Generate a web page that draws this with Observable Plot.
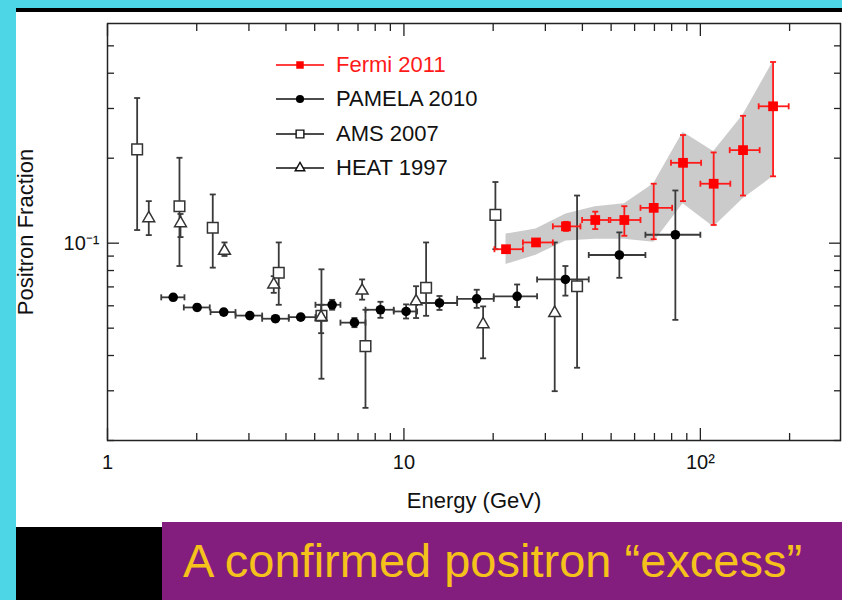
<!DOCTYPE html>
<html>
<head>
<meta charset="utf-8">
<script src="https://cdn.jsdelivr.net/npm/d3@7"></script>
<script src="https://cdn.jsdelivr.net/npm/@observablehq/plot@0.6"></script>
<style>
html, body { margin: 0; padding: 0; background: #fff; }
body { position: relative; width: 842px; height: 600px; overflow: hidden; font-family: "Liberation Sans", Arial, Helvetica, sans-serif; }
.blk { position: absolute; }
#chart { position: absolute; left: 16px; top: 12px; }
#legend { position: absolute; left: 0; top: 0; }
.lrow { position: absolute; height: 26px; }
.lrow svg { position: absolute; left: 0; top: 0; }
.lrow span { position: absolute; left: 60px; top: 0; line-height: 26px; font-size: 22px; white-space: nowrap; }
#banner { position: absolute; left: 162px; top: 522px; width: 680px; height: 78px; background: #841e7e; }
#banner span { position: absolute; left: 21px; top: 11px; font-size: 47px; line-height: 56px; color: #f5c21b; white-space: nowrap; }
</style>
</head>
<body>
<div class="blk" style="left:0;top:0;width:842px;height:8px;background:#4dd7e6"></div>
<div class="blk" style="left:16px;top:8px;width:826px;height:4px;background:#000"></div>
<div class="blk" style="left:0;top:0;width:16px;height:600px;background:#4dd7e6"></div>
<div class="blk" style="left:16px;top:527px;width:146px;height:73px;background:#000"></div>
<div id="chart"></div>
<div id="legend"></div>
<div id="banner"><span>A confirmed positron “excess”</span></div>
<script>
// ---------- data ----------
const seriesNames = ["Fermi 2011", "PAMELA 2010", "AMS 2007", "HEAT 1997"];

// Fermi 2011
const fermiE    = [22.1, 27.9, 35.2, 44.2, 55.4, 69.6, 87.4, 110.9, 139.3, 175.9];
const fermiELo  = [20.2, 25.2, 31.8, 39.9, 49.7, 62.8, 79.6, 100, 125.6, 157.3];
const fermiEHi  = [25.2, 31.8, 39.4, 49.1, 62.8, 80.3, 100.6, 126.2, 158.5, 198.6];
const fermiF    = [0.0952, 0.1006, 0.1147, 0.1208, 0.1208, 0.1334, 0.1926, 0.1624, 0.2136, 0.3054];
const fermiFLo  = [0.0930, 0.0983, 0.1105, 0.1122, 0.1062, 0.1033, 0.1409, 0.1160, 0.1475, 0.1725];
const fermiFHi  = [0.0975, 0.1030, 0.1190, 0.1293, 0.1352, 0.1624, 0.2416, 0.2096, 0.2826, 0.4383];
const fermiSysLo = [0.0841, 0.0906, 0.1017, 0.1033, 0.1033, 0.1008, 0.1378, 0.1141, 0.1436, 0.1721];
const fermiSysHi = [0.1077, 0.1122, 0.1269, 0.1345, 0.1378, 0.1624, 0.2471, 0.2113, 0.2842, 0.4393];

// PAMELA 2010
const pamelaE   = [1.666, 2.006, 2.467, 3.02, 3.687, 4.486, 5.726, 6.808, 8.332, 10.17, 13.18, 17.6, 24.09, 35.05, 53.3, 82.35];
const pamelaELo = [1.518, 1.809, 2.226, 2.703, 3.325, 4.088, 5.03, 6.107, 7.418, 9.24, 11.08, 15.12, 20.09, 28.13, 42.02, 65.26];
const pamelaEHi = [1.818, 2.213, 2.703, 3.325, 4.088, 5.03, 6.107, 7.418, 9.24, 11.08, 15.12, 20.09, 28.13, 42.02, 65.26, 100];
const pamelaF   = [0.0643, 0.0592, 0.0570, 0.0554, 0.0540, 0.0547, 0.0605, 0.0523, 0.0581, 0.0573, 0.0614, 0.0635, 0.0648, 0.0744, 0.0908, 0.1071];
const pamelaFLo = [0.0628, 0.0578, 0.0557, 0.0541, 0.0527, 0.0534, 0.0581, 0.0504, 0.0544, 0.0541, 0.0580, 0.0590, 0.0594, 0.0652, 0.0754, 0.0535];
const pamelaFHi = [0.0658, 0.0606, 0.0583, 0.0567, 0.0553, 0.0560, 0.0630, 0.0543, 0.0620, 0.0607, 0.0650, 0.0684, 0.0714, 0.0830, 0.1092, 0.1537];

// AMS 2007
const amsE   = [1.259, 1.749, 2.265, 3.782, 5.269, 7.418, 11.88, 20.35, 38.38];
const amsF   = [0.2149, 0.1352, 0.1134, 0.0786, 0.0553, 0.0432, 0.0695, 0.1259, 0.0704];
const amsFLo = [0.1113, 0.0830, 0.0819, 0.0605, 0.0331, 0.0261, 0.0553, 0.0952, 0.0362];
const amsFHi = [0.3267, 0.2007, 0.1488, 0.1006, 0.0808, 0.0581, 0.1006, 0.1647, 0.1475];

// HEAT 1997
const heatE   = [1.378, 1.763, 2.481, 3.638, 5.256, 7.228, 10.99, 18.5, 32.26];
const heatF   = [0.1225, 0.1176, 0.0939, 0.0714, 0.0547, 0.0679, 0.0622, 0.0516, 0.0566];
const heatFLo = [0.1068, 0.1051, 0.0901, 0.0667, 0.0480, 0.0631, 0.0543, 0.0391, 0.0299];
const heatFHi = [0.1409, 0.1269, 0.1006, 0.0764, 0.0605, 0.0744, 0.0704, 0.0597, 0.1006];

// axis ticks
const xMajor = [1, 10, 100];
const xMinor = [2, 3, 4, 5, 6, 7, 8, 9, 20, 30, 40, 50, 60, 70, 80, 90, 200];
const yMajor = [0.1];
const yMinor = [0.02, 0.03, 0.04, 0.05, 0.06, 0.07, 0.08, 0.09, 0.2, 0.3, 0.4, 0.5];
const xDomain = [1, 297];
const yDomain = [0.02, 0.6];

// ---------- build tables ----------
const fermi = fermiE.map((e, i) => ({e, elo: fermiELo[i], ehi: fermiEHi[i], f: fermiF[i], lo: fermiFLo[i], hi: fermiFHi[i], sysLo: fermiSysLo[i], sysHi: fermiSysHi[i]}));
const pamela = pamelaE.map((e, i) => ({e, elo: pamelaELo[i], ehi: pamelaEHi[i], f: pamelaF[i], lo: pamelaFLo[i], hi: pamelaFHi[i]}));
const ams = amsE.map((e, i) => ({e, f: amsF[i], lo: amsFLo[i], hi: amsFHi[i]}));
const heat = heatE.map((e, i) => ({e, f: heatF[i], lo: heatFLo[i], hi: heatFHi[i]}));

const sup = {"0":"⁰","1":"¹","2":"²","3":"³","4":"⁴","5":"⁵","6":"⁶","7":"⁷","8":"⁸","9":"⁹","-":"⁻"};
const powFmt = d => {
  const p = Math.round(Math.log10(d));
  if (p === 0) return "1";
  if (p === 1) return "10";
  return "10" + String(p).split("").map(c => sup[c]).join("");
};

const capH = {draw(ctx, size) { const w = Math.sqrt(size / Math.PI); ctx.moveTo(-w, 0); ctx.lineTo(w, 0); }};
const capV = {draw(ctx, size) { const w = Math.sqrt(size / Math.PI); ctx.moveTo(0, -w); ctx.lineTo(0, w); }};

function errorMarks(data, color, width, withX) {
  const s = {stroke: color, strokeWidth: width};
  const m = [
    Plot.link(data, {x1: "e", x2: "e", y1: "lo", y2: "hi", ...s}),
    Plot.dot(data, {x: "e", y: "lo", symbol: capH, r: 3, fill: "none", ...s}),
    Plot.dot(data, {x: "e", y: "hi", symbol: capH, r: 3, fill: "none", ...s})
  ];
  if (withX) m.push(
    Plot.link(data, {x1: "elo", x2: "ehi", y1: "f", y2: "f", ...s}),
    Plot.dot(data, {x: "elo", y: "f", symbol: capV, r: 3, fill: "none", ...s}),
    Plot.dot(data, {x: "ehi", y: "f", symbol: capV, r: 3, fill: "none", ...s})
  );
  return m;
}

const blank = () => "";
const tickStyle = {stroke: "#222", strokeWidth: 1.3, tickFormat: blank, label: null};
const ink = "#3a3a3a";

const chart = Plot.plot({
  width: 826,
  height: 508,
  marginLeft: 91,
  marginRight: 2,
  marginTop: 11,
  marginBottom: 80,
  style: {fontFamily: "'Liberation Sans', Arial, Helvetica, sans-serif", fontSize: "20px", color: "#111", background: "transparent", overflow: "visible"},
  x: {type: "log", domain: xDomain, label: null},
  y: {type: "log", domain: yDomain, label: null},
  marks: [
    Plot.areaY(fermi, {x: "e", y1: "sysLo", y2: "sysHi", fill: "#cbcbcb"}),
    ...errorMarks(pamela, ink, 1.8, true),
    ...errorMarks(ams, ink, 1.8, false),
    ...errorMarks(heat, ink, 1.8, false),
    Plot.dot(pamela, {x: "e", y: "f", r: 4.8, fill: "#000", stroke: "none"}),
    Plot.dot(ams, {x: "e", y: "f", symbol: "square", r: 6, fill: "#fff", stroke: "#333", strokeWidth: 1.5}),
    Plot.dot(heat, {x: "e", y: "f", symbol: "triangle", r: 4.4, fill: "#fff", stroke: "#333", strokeWidth: 1.5}),
    ...errorMarks(fermi, "#ff1a1a", 1.8, true),
    Plot.dot(fermi, {x: "e", y: "f", symbol: "square", r: 5.5, fill: "#ff0000", stroke: "none"}),
    // axes: labels
    Plot.axisX({ticks: xMajor, tickSize: 0, tickPadding: 14, tickFormat: powFmt, label: null, fontSize: 20}),
    Plot.axisX({ticks: [], tickSize: 0, label: "Energy (GeV)", labelAnchor: "center", labelOffset: 67, labelArrow: "none", fontSize: 22}),
    Plot.axisY({ticks: yMajor, tickSize: 0, tickPadding: 8, tickFormat: powFmt, label: null, fontSize: 20}),
    Plot.axisY({ticks: [], tickSize: 0, label: "Positron Fraction", labelAnchor: "center", labelOffset: 90, labelArrow: "none", fontSize: 22}),
    // axes: inward ticks on all four sides
    Plot.axisX({ticks: xMajor, tickSize: -12, ...tickStyle}),
    Plot.axisX({ticks: xMinor, tickSize: -7, ...tickStyle}),
    Plot.axisX({anchor: "top", ticks: xMajor, tickSize: -12, ...tickStyle}),
    Plot.axisX({anchor: "top", ticks: xMinor, tickSize: -7, ...tickStyle}),
    Plot.axisY({ticks: yMajor, tickSize: -12, ...tickStyle}),
    Plot.axisY({ticks: yMinor, tickSize: -7, ...tickStyle}),
    Plot.axisY({anchor: "right", ticks: yMajor, tickSize: -12, ...tickStyle}),
    Plot.axisY({anchor: "right", ticks: yMinor, tickSize: -7, ...tickStyle}),
    Plot.frame({stroke: "#222", strokeWidth: 1.5})
  ]
});
document.getElementById("chart").appendChild(chart);

// ---------- legend (inside the frame, top-left) ----------
const legendStyles = [
  {color: "#ff0000", text: "#ff1a1a", symbol: d3.symbolSquare, size: 56, fill: "#ff0000", stroke: "none"},
  {color: "#111", text: "#111", symbol: d3.symbolCircle, size: 52, fill: "#000", stroke: "none"},
  {color: "#111", text: "#111", symbol: d3.symbolSquare, size: 60, fill: "#fff", stroke: "#111"},
  {color: "#111", text: "#111", symbol: d3.symbolTriangle, size: 40, fill: "#fff", stroke: "#111"}
];
const legend = d3.select("#legend");
seriesNames.forEach((name, i) => {
  const st = legendStyles[i];
  const row = legend.append("div").attr("class", "lrow")
    .style("left", "276px").style("top", (52 + i * 34.3) + "px");
  const svg = row.append("svg").attr("width", 50).attr("height", 26);
  svg.append("line").attr("x1", 0).attr("x2", 48).attr("y1", 13).attr("y2", 13)
    .attr("stroke", st.color).attr("stroke-width", 1.4);
  svg.append("path").attr("d", d3.symbol(st.symbol, st.size)())
    .attr("transform", "translate(24,13)")
    .attr("fill", st.fill).attr("stroke", st.stroke).attr("stroke-width", 1.4);
  row.append("span").text(name).style("color", st.text);
});
</script>
</body>
</html>
